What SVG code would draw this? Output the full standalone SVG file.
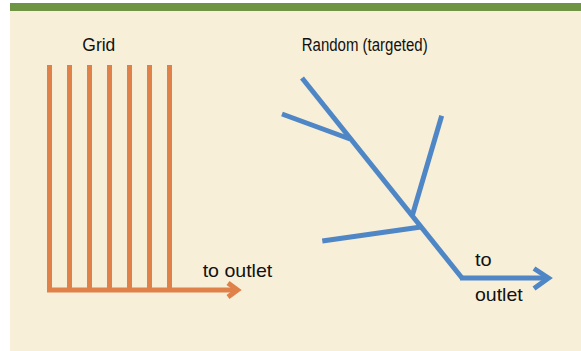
<svg xmlns="http://www.w3.org/2000/svg" width="581" height="351" viewBox="0 0 581 351">
<style>
.lbl{font-family:"Liberation Sans",Arial,sans-serif;fill:#111}
.top{font-size:17.5px}
.out{font-size:19px}
.grid{stroke:#E0814A;stroke-width:5;fill:none}
.rand{stroke:#4F86C6;stroke-width:5;fill:none;stroke-linejoin:miter}
</style>
<rect x="0" y="0" width="581" height="351" fill="#ffffff"/>
<rect x="10" y="11" width="571" height="340" fill="#F8EFD8"/>
<rect x="10" y="3" width="571" height="8" fill="#6E9444"/>
<g id="grid-label"><text class="lbl top" x="82.3" y="50.5" textLength="33" lengthAdjust="spacingAndGlyphs">Grid</text></g>
<g id="random-label"><text class="lbl top" x="301.7" y="50.5" textLength="126" lengthAdjust="spacingAndGlyphs">Random (targeted)</text></g>
<g id="grid-network">
<path class="grid" d="M49.5 65V290M69.5 65V290M89.5 65V290M109.5 65V290M129.5 65V290M149.5 65V290M169.5 65V290"/>
</g>
<g id="random-network">
<path class="rand" d="M302 78L462 278"/>
<path class="rand" d="M282 114L350 139"/>
<path class="rand" d="M441.7 115.7L412.3 215.5"/>
<path class="rand" d="M322.3 241L421 227"/>
</g>
<g id="connectors">
<path class="grid" d="M47 290H237"/>
<path class="grid" d="M228 283L237.5 290L228 297"/>
<path class="rand" d="M460 278H548"/>
<path class="rand" d="M534 268.5L548.5 278L534 288.5"/>
</g>
<g id="outlet-grid"><text class="lbl out" x="202.7" y="277.3" textLength="69.6" lengthAdjust="spacingAndGlyphs">to outlet</text></g>
<g id="outlet-random">
<text class="lbl out" x="475" y="266" textLength="16.7" lengthAdjust="spacingAndGlyphs">to</text>
<text class="lbl out" x="475" y="300.7" textLength="47.7" lengthAdjust="spacingAndGlyphs">outlet</text>
</g>
</svg>
